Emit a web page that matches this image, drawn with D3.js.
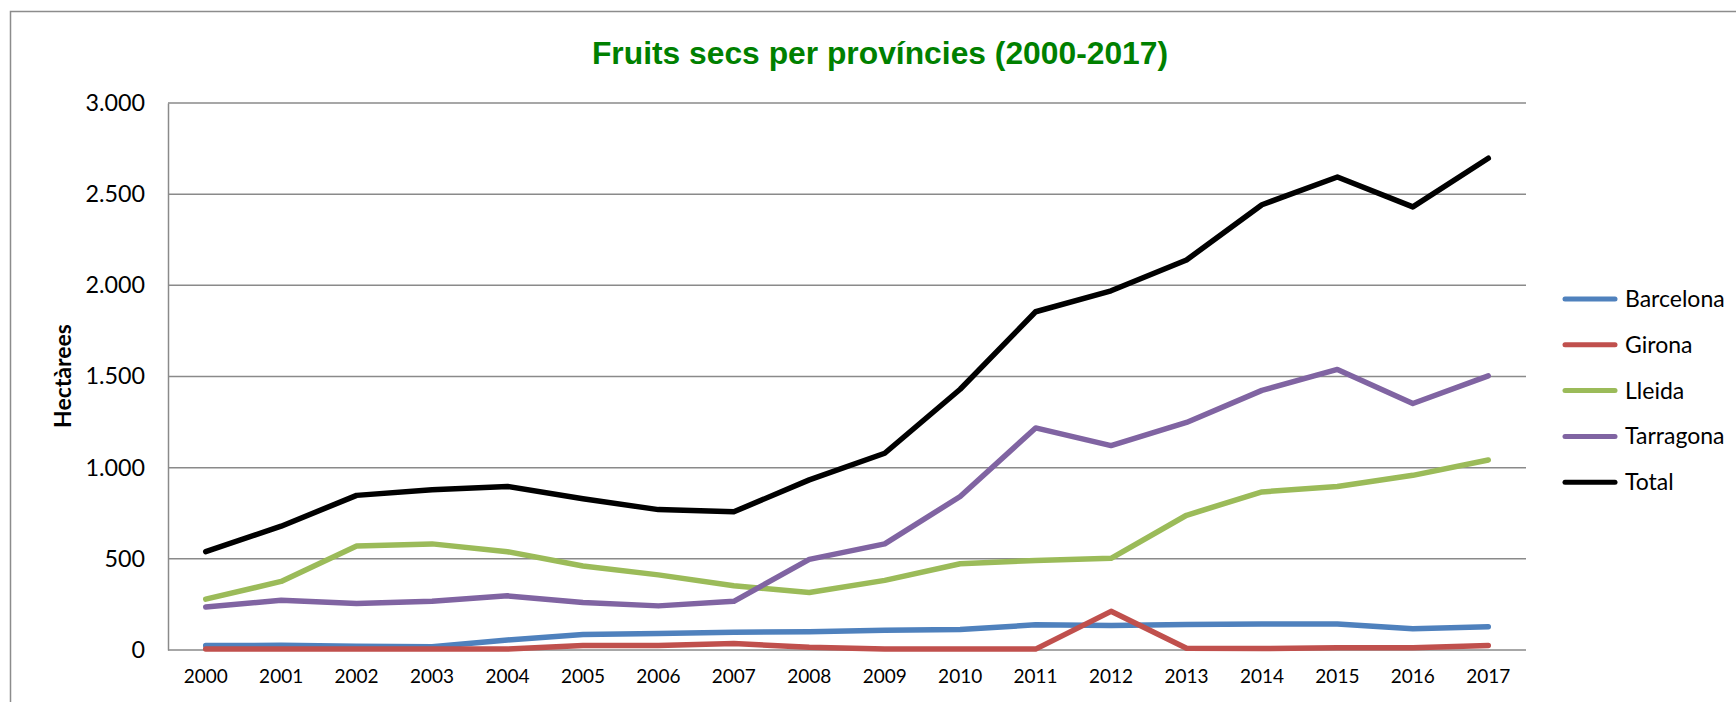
<!DOCTYPE html>
<html><head><meta charset="utf-8">
<script src="https://cdn.jsdelivr.net/npm/d3@7"></script>
<style>html,body{margin:0;padding:0;background:#fff;}svg{display:block;}</style>
</head><body>
<svg id="chart" width="1736" height="702"></svg>
<script>
const years = ["2000","2001","2002","2003","2004","2005","2006","2007","2008","2009","2010","2011","2012","2013","2014","2015","2016","2017"];
const barcelona = [24,26,20,18,55,85,90,97,100,108,112,138,135,140,143,143,117,128];
const girona    = [5,5,5,5,5,25,25,35,15,5,5,5,212,10,8,12,12,25];
const lleida    = [279,376,570,582,539,461,412,352,315,382,473,491,503,739,867,897,958,1042];
const tarragona = [236,273,255,267,297,261,242,267,497,582,842,1218,1121,1248,1424,1539,1352,1503];
const total     = [539,679,848,879,897,830,770,758,933,1079,1430,1855,1970,2139,2442,2594,2430,2697];
const seriesNames = ["Barcelona","Girona","Lleida","Tarragona","Total"];
const yTicks = [0,500,1000,1500,2000,2500,3000];
const title = "Fruits secs per províncies (2000-2017)";
const yTitle = "Hectàrees";

const seriesValues = [barcelona, girona, lleida, tarragona, total];
const colors = ["#4F81BD","#C0504D","#9BBB59","#8064A2","#000000"];

const svg = d3.select("#chart");
const pLeft = 168, pRight = 1526, pTop = 103, pBottom = 650;

// outer frame
svg.append("rect").attr("x",10.5).attr("y",11.5).attr("width",1740).attr("height",720)
  .attr("fill","#fff").attr("stroke","#8c8c8c").attr("stroke-width",1.5);

const x = d3.scaleBand().domain(years).range([pLeft,pRight]);
const y = d3.scaleLinear().domain([0,3000]).range([pBottom,pTop]);
const fmt = v => d3.format(",")(v).replace(/,/g,".");

// gridlines
svg.append("g").selectAll("line").data(yTicks).join("line")
  .attr("x1",pLeft).attr("x2",pRight)
  .attr("y1",d=>y(d)).attr("y2",d=>y(d))
  .attr("stroke","#8a8a8a").attr("stroke-width",1.5);

// y axis
const yAxis = svg.append("g").attr("transform",`translate(${pLeft},0)`)
  .call(d3.axisLeft(y).tickValues(yTicks).tickFormat(fmt).tickSize(0).tickPadding(23));
yAxis.select(".domain").attr("stroke","#8a8a8a").attr("stroke-width",1.5);
yAxis.selectAll("text").attr("font-family","Lato, 'Open Sans', sans-serif").attr("font-size",23.3).attr("fill","#000");

// x axis
const xAxis = svg.append("g").attr("transform",`translate(0,${pBottom})`)
  .call(d3.axisBottom(x).tickSize(0).tickPadding(20));
xAxis.select(".domain").remove();
xAxis.selectAll("text").attr("font-family","Lato, 'Open Sans', sans-serif").attr("font-size",19).attr("fill","#000");

// lines
const line = d3.line().x((d,i)=>x(years[i])+x.bandwidth()/2).y(d=>y(d));
svg.append("g").selectAll("path").data(seriesValues).join("path")
  .attr("d",d=>line(d)).attr("fill","none")
  .attr("stroke",(d,i)=>colors[i]).attr("stroke-width",5.5)
  .attr("stroke-linejoin","round").attr("stroke-linecap","round");

// title
svg.append("text").attr("x",880).attr("y",64).attr("text-anchor","middle")
  .attr("font-family","'Liberation Sans', Arial, sans-serif").attr("font-weight","bold")
  .attr("font-size",31.8).attr("fill","#008000").text(title);

// y title
svg.append("text").attr("transform","translate(71,376) rotate(-90)").attr("text-anchor","middle")
  .attr("font-family","Lato, 'Open Sans', sans-serif").attr("font-weight","bold")
  .attr("font-size",23).attr("fill","#000").text(yTitle);

// legend
const lg = svg.append("g").selectAll("g").data(seriesNames).join("g")
  .attr("transform",(d,i)=>`translate(1565,${299 + i*45.8})`);
lg.append("line").attr("x1",0).attr("x2",50).attr("y1",0).attr("y2",0)
  .attr("stroke",(d,i)=>colors[i]).attr("stroke-width",5).attr("stroke-linecap","round");
lg.append("text").attr("x",60).attr("y",0).attr("dy","0.35em")
  .attr("font-family","Lato, 'Open Sans', sans-serif").attr("font-size",23).attr("fill","#000").text(d=>d);
</script>
</body></html>
